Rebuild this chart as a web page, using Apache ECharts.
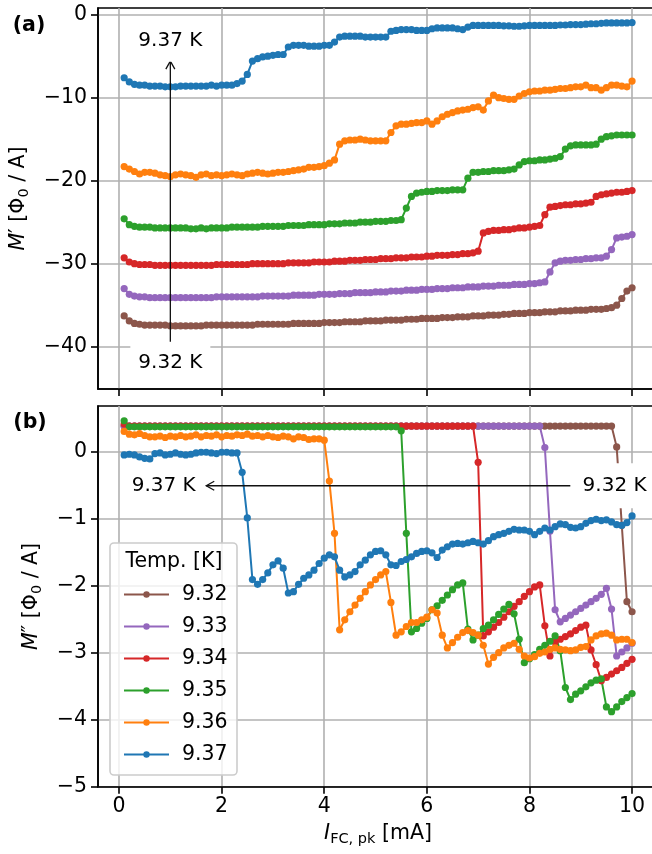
<!DOCTYPE html>
<html>
<head>
<meta charset="utf-8">
<script src="https://cdn.jsdelivr.net/npm/echarts@6.0.0/dist/echarts.min.js"></script>
<style>
  html, body { margin: 0; padding: 0; background: #fff; }
  #chart { width: 652px; height: 854px; }
</style>
</head>
<body>
<div id="chart"></div>
<script>
// peak field-coil current [mA]
const current = [
  0.1, 0.2, 0.3, 0.4, 0.5, 0.6, 0.7, 0.8, 0.9, 1.0,
  1.1, 1.2, 1.3, 1.4, 1.5, 1.6, 1.7, 1.8, 1.9, 2.0,
  2.1, 2.2, 2.3, 2.4, 2.5, 2.6, 2.7, 2.8, 2.9, 3.0,
  3.1, 3.2, 3.3, 3.4, 3.5, 3.6, 3.7, 3.8, 3.9, 4.0,
  4.1, 4.2, 4.3, 4.4, 4.5, 4.6, 4.7, 4.8, 4.9, 5.0,
  5.1, 5.2, 5.3, 5.4, 5.5, 5.6, 5.7, 5.8, 5.9, 6.0,
  6.1, 6.2, 6.3, 6.4, 6.5, 6.6, 6.7, 6.8, 6.9, 7.0,
  7.1, 7.2, 7.3, 7.4, 7.5, 7.6, 7.7, 7.8, 7.9, 8.0,
  8.1, 8.2, 8.3, 8.4, 8.5, 8.6, 8.7, 8.8, 8.9, 9.0,
  9.1, 9.2, 9.3, 9.4, 9.5, 9.6, 9.7, 9.8, 9.9, 10.0
];

// M' (panel a)
const mReal932 = [
  -36.3, -36.9, -37.2, -37.3, -37.4, -37.4, -37.4, -37.4, -37.4, -37.5,
  -37.5, -37.5, -37.5, -37.5, -37.5, -37.5, -37.4, -37.4, -37.4, -37.4,
  -37.4, -37.4, -37.4, -37.4, -37.4, -37.4, -37.3, -37.3, -37.3, -37.3,
  -37.3, -37.3, -37.3, -37.2, -37.2, -37.2, -37.2, -37.2, -37.2, -37.1,
  -37.1, -37.1, -37.1, -37.0, -37.0, -37.0, -37.0, -36.9, -36.9, -36.9,
  -36.9, -36.8, -36.8, -36.8, -36.8, -36.7, -36.7, -36.7, -36.6, -36.6,
  -36.6, -36.6, -36.5, -36.5, -36.5, -36.4, -36.4, -36.4, -36.3, -36.3,
  -36.3, -36.2, -36.2, -36.2, -36.1, -36.1, -36.0, -36.0, -36.0, -35.9,
  -35.9, -35.9, -35.8, -35.8, -35.8, -35.7, -35.7, -35.7, -35.6, -35.6,
  -35.6, -35.5, -35.5, -35.5, -35.4, -35.3, -35.0, -34.2, -33.3, -32.9
];
const mReal933 = [
  -33.0, -33.7, -33.9, -34.0, -34.0, -34.1, -34.1, -34.1, -34.1, -34.1,
  -34.1, -34.1, -34.1, -34.1, -34.1, -34.1, -34.1, -34.1, -34.0, -34.0,
  -34.0, -34.0, -34.0, -34.0, -34.0, -34.0, -34.0, -33.9, -33.9, -33.9,
  -33.9, -33.9, -33.9, -33.8, -33.8, -33.8, -33.8, -33.8, -33.7, -33.7,
  -33.7, -33.7, -33.6, -33.6, -33.6, -33.5, -33.5, -33.5, -33.5, -33.4,
  -33.4, -33.4, -33.3, -33.3, -33.3, -33.2, -33.2, -33.2, -33.1, -33.1,
  -33.1, -33.0, -33.0, -33.0, -32.9, -32.9, -32.9, -32.8, -32.8, -32.8,
  -32.7, -32.7, -32.7, -32.6, -32.6, -32.6, -32.5, -32.5, -32.5, -32.4,
  -32.4, -32.3, -32.2, -31.0, -29.9, -29.7, -29.6, -29.6, -29.5, -29.5,
  -29.4, -29.4, -29.3, -29.3, -29.1, -28.3, -26.9, -26.8, -26.7, -26.5
];
const mReal934 = [
  -29.3, -29.8, -30.0, -30.1, -30.1, -30.1, -30.2, -30.2, -30.2, -30.2,
  -30.2, -30.2, -30.2, -30.2, -30.2, -30.2, -30.2, -30.2, -30.1, -30.1,
  -30.1, -30.1, -30.1, -30.1, -30.1, -30.0, -30.0, -30.0, -30.0, -30.0,
  -30.0, -30.0, -29.9, -29.9, -29.9, -29.9, -29.9, -29.8, -29.8, -29.8,
  -29.8, -29.7, -29.7, -29.7, -29.6, -29.6, -29.6, -29.5, -29.5, -29.5,
  -29.4, -29.4, -29.4, -29.3, -29.3, -29.3, -29.2, -29.2, -29.2, -29.1,
  -29.1, -29.0, -29.0, -29.0, -28.9, -28.9, -28.8, -28.8, -28.7, -28.5,
  -26.3, -26.1, -26.0, -26.0, -25.9, -25.9, -25.8, -25.7, -25.7, -25.6,
  -25.5, -25.4, -24.1, -23.2, -23.1, -23.0, -22.9, -22.9, -22.8, -22.8,
  -22.7, -22.6, -21.9, -21.7, -21.6, -21.5, -21.4, -21.4, -21.3, -21.2
];
const mReal935 = [
  -24.6, -25.3, -25.5, -25.6, -25.6, -25.6, -25.7, -25.7, -25.7, -25.7,
  -25.7, -25.7, -25.7, -25.8, -25.8, -25.7, -25.8, -25.7, -25.7, -25.7,
  -25.7, -25.6, -25.6, -25.6, -25.6, -25.6, -25.6, -25.5, -25.5, -25.5,
  -25.5, -25.5, -25.4, -25.4, -25.4, -25.4, -25.3, -25.3, -25.3, -25.3,
  -25.2, -25.2, -25.2, -25.1, -25.1, -25.1, -25.0, -25.0, -25.0, -24.9,
  -24.9, -24.9, -24.8, -24.8, -24.7, -23.3, -21.9, -21.5, -21.4, -21.3,
  -21.3, -21.2, -21.2, -21.2, -21.1, -21.1, -21.1, -19.7, -19.0, -19.0,
  -18.9, -18.9, -18.8, -18.8, -18.8, -18.7, -18.6, -18.1, -17.7, -17.6,
  -17.6, -17.5, -17.5, -17.4, -17.3, -17.1, -16.2, -15.8, -15.7, -15.7,
  -15.7, -15.7, -15.6, -15.0, -14.7, -14.6, -14.5, -14.5, -14.5, -14.5
];
const mReal936 = [
  -18.3, -18.6, -18.9, -19.2, -19.0, -19.0, -19.1, -19.3, -19.4, -19.5,
  -19.3, -19.2, -19.3, -19.4, -19.6, -19.3, -19.2, -19.4, -19.3, -19.4,
  -19.3, -19.2, -19.3, -19.4, -19.2, -19.1, -19.0, -19.1, -19.2, -19.1,
  -19.0, -19.0, -18.9, -18.8, -18.7, -18.6, -18.4, -18.4, -18.3, -18.2,
  -17.9, -17.5, -15.6, -15.2, -15.1, -15.1, -15.0, -15.1, -15.2, -15.2,
  -15.2, -15.2, -14.2, -13.4, -13.2, -13.2, -13.1, -13.0, -13.0, -12.8,
  -13.2, -12.8, -12.3, -12.0, -11.8, -11.6, -11.5, -11.4, -11.2, -11.1,
  -11.5, -10.4, -9.7, -10.0, -10.1, -10.2, -10.2, -9.8, -9.5, -9.3,
  -9.2, -9.2, -9.1, -9.1, -9.0, -8.9, -8.9, -8.8, -8.7, -8.7,
  -8.5, -8.8, -8.8, -9.1, -8.8, -8.5, -8.5, -8.6, -8.7, -8.0
];
const mReal937 = [
  -7.6, -8.1, -8.4, -8.5, -8.5, -8.6, -8.6, -8.6, -8.7, -8.7,
  -8.7, -8.6, -8.6, -8.6, -8.6, -8.6, -8.6, -8.5, -8.6, -8.5,
  -8.5, -8.5, -8.3, -8.0, -7.2, -5.6, -5.3, -5.1, -5.0, -4.9,
  -4.8, -4.8, -3.9, -3.7, -3.7, -3.7, -3.8, -3.8, -3.8, -3.7,
  -3.7, -3.3, -2.7, -2.6, -2.6, -2.6, -2.6, -2.7, -2.7, -2.7,
  -2.7, -2.7, -2.0, -1.9, -1.8, -1.8, -1.8, -1.9, -1.9, -1.9,
  -1.7, -1.6, -1.6, -1.6, -1.6, -1.7, -1.8, -1.5, -1.3, -1.3,
  -1.3, -1.3, -1.3, -1.3, -1.35, -1.35, -1.4, -1.4, -1.35, -1.3,
  -1.3, -1.3, -1.3, -1.3, -1.3, -1.25, -1.25, -1.2, -1.2, -1.2,
  -1.15, -1.1, -1.1, -1.05, -1.0, -1.0, -1.0, -1.0, -1.0, -0.95
];

// M'' (panel b)
const mImag932 = [
  0.38, 0.38, 0.38, 0.38, 0.38, 0.38, 0.38, 0.38, 0.38, 0.38,
  0.38, 0.38, 0.38, 0.38, 0.38, 0.38, 0.38, 0.38, 0.38, 0.38,
  0.38, 0.38, 0.38, 0.38, 0.38, 0.38, 0.38, 0.38, 0.38, 0.38,
  0.38, 0.38, 0.38, 0.38, 0.38, 0.38, 0.38, 0.38, 0.38, 0.38,
  0.38, 0.38, 0.38, 0.38, 0.38, 0.38, 0.38, 0.38, 0.38, 0.38,
  0.38, 0.38, 0.38, 0.38, 0.38, 0.38, 0.38, 0.38, 0.38, 0.38,
  0.38, 0.38, 0.38, 0.38, 0.38, 0.38, 0.38, 0.38, 0.38, 0.38,
  0.38, 0.38, 0.38, 0.38, 0.38, 0.38, 0.38, 0.38, 0.38, 0.38,
  0.38, 0.38, 0.38, 0.38, 0.38, 0.38, 0.38, 0.38, 0.38, 0.38,
  0.38, 0.38, 0.38, 0.38, 0.38, 0.38, 0.07, -1.10, -2.24, -2.39
];
const mImag933 = [
  0.38, 0.38, 0.38, 0.38, 0.38, 0.38, 0.38, 0.38, 0.38, 0.38,
  0.38, 0.38, 0.38, 0.38, 0.38, 0.38, 0.38, 0.38, 0.38, 0.38,
  0.38, 0.38, 0.38, 0.38, 0.38, 0.38, 0.38, 0.38, 0.38, 0.38,
  0.38, 0.38, 0.38, 0.38, 0.38, 0.38, 0.38, 0.38, 0.38, 0.38,
  0.38, 0.38, 0.38, 0.38, 0.38, 0.38, 0.38, 0.38, 0.38, 0.38,
  0.38, 0.38, 0.38, 0.38, 0.38, 0.38, 0.38, 0.38, 0.38, 0.38,
  0.38, 0.38, 0.38, 0.38, 0.38, 0.38, 0.38, 0.38, 0.38, 0.38,
  0.38, 0.38, 0.38, 0.38, 0.38, 0.38, 0.38, 0.38, 0.38, 0.38,
  0.38, 0.38, 0.06, -1.19, -2.36, -2.54, -2.49, -2.44, -2.39, -2.34,
  -2.29, -2.24, -2.19, -2.13, -2.04, -2.35, -3.05, -2.99, -2.93, -2.86
];
const mImag934 = [
  0.41, 0.38, 0.38, 0.38, 0.38, 0.38, 0.38, 0.38, 0.38, 0.38,
  0.38, 0.38, 0.38, 0.38, 0.38, 0.38, 0.38, 0.38, 0.38, 0.38,
  0.38, 0.38, 0.38, 0.38, 0.38, 0.38, 0.38, 0.38, 0.38, 0.38,
  0.38, 0.38, 0.38, 0.38, 0.38, 0.38, 0.38, 0.38, 0.38, 0.38,
  0.38, 0.38, 0.38, 0.38, 0.38, 0.38, 0.38, 0.38, 0.38, 0.38,
  0.38, 0.38, 0.38, 0.38, 0.38, 0.38, 0.38, 0.38, 0.38, 0.38,
  0.38, 0.38, 0.38, 0.38, 0.38, 0.38, 0.38, 0.38, 0.38, -0.16,
  -2.75, -2.69, -2.62, -2.55, -2.47, -2.39, -2.31, -2.24, -2.16, -2.09,
  -2.02, -1.99, -2.60, -3.05, -2.84, -2.80, -2.76, -2.72, -2.67, -2.62,
  -2.59, -2.96, -3.18, -3.42, -3.37, -3.32, -3.27, -3.22, -3.16, -3.10
];
const mImag935 = [
  0.46, 0.37, 0.37, 0.37, 0.37, 0.37, 0.37, 0.37, 0.37, 0.37,
  0.37, 0.37, 0.37, 0.37, 0.37, 0.37, 0.37, 0.37, 0.37, 0.37,
  0.37, 0.37, 0.37, 0.37, 0.37, 0.37, 0.37, 0.37, 0.37, 0.37,
  0.37, 0.37, 0.37, 0.37, 0.37, 0.37, 0.37, 0.37, 0.37, 0.37,
  0.37, 0.37, 0.37, 0.37, 0.37, 0.37, 0.37, 0.37, 0.37, 0.37,
  0.37, 0.37, 0.37, 0.37, 0.31, -1.22, -2.69, -2.64, -2.56, -2.49,
  -2.36, -2.30, -2.22, -2.14, -2.06, -1.99, -1.96, -2.65, -2.81, -2.74,
  -2.64, -2.59, -2.51, -2.43, -2.35, -2.28, -2.42, -2.80, -3.15, -3.09,
  -3.03, -2.95, -2.89, -2.83, -2.75, -2.97, -3.52, -3.70, -3.62, -3.57,
  -3.51, -3.45, -3.41, -3.39, -3.81, -3.88, -3.81, -3.73, -3.67, -3.61
];
const mImag936 = [
  0.30, 0.26, 0.25, 0.27, 0.24, 0.22, 0.22, 0.23, 0.21, 0.23,
  0.22, 0.24, 0.22, 0.23, 0.25, 0.22, 0.24, 0.23, 0.25, 0.22,
  0.24, 0.23, 0.25, 0.24, 0.26, 0.23, 0.24, 0.22, 0.24, 0.22,
  0.21, 0.23, 0.22, 0.19, 0.22, 0.21, 0.18, 0.19, 0.19, 0.17,
  -0.44, -1.22, -2.66, -2.51, -2.39, -2.29, -2.19, -2.09, -1.99, -1.91,
  -1.84, -1.79, -2.25, -2.74, -2.69, -2.61, -2.55, -2.55, -2.51, -2.47,
  -2.36, -2.41, -2.74, -2.93, -2.85, -2.77, -2.70, -2.67, -2.70, -2.74,
  -2.89, -3.17, -3.07, -3.00, -2.93, -2.89, -2.86, -2.95, -3.05, -3.08,
  -3.06, -3.01, -2.99, -2.95, -2.93, -2.95, -2.96, -2.97, -2.96, -2.92,
  -2.91, -2.81, -2.75, -2.72, -2.71, -2.74, -2.81, -2.80, -2.80, -2.85
];
const mImag937 = [
  -0.05, -0.04, -0.05, -0.08, -0.10, -0.11, -0.03, -0.02, -0.05, -0.04,
  -0.02, -0.04, -0.05, -0.04, -0.02, -0.01, -0.01, -0.02, -0.03, -0.01,
  -0.01, -0.02, -0.02, -0.31, -0.99, -1.91, -1.98, -1.91, -1.81, -1.69,
  -1.63, -1.74, -2.11, -2.09, -1.98, -1.89, -1.84, -1.77, -1.67, -1.59,
  -1.54, -1.57, -1.77, -1.87, -1.84, -1.79, -1.69, -1.62, -1.54, -1.49,
  -1.48, -1.54, -1.69, -1.70, -1.64, -1.61, -1.57, -1.52, -1.49, -1.48,
  -1.51, -1.58, -1.47, -1.42, -1.38, -1.37, -1.38, -1.36, -1.34, -1.36,
  -1.38, -1.33, -1.27, -1.24, -1.22, -1.19, -1.16, -1.17, -1.17, -1.19,
  -1.24, -1.19, -1.14, -1.17, -1.12, -1.08, -1.09, -1.13, -1.14, -1.12,
  -1.07, -1.03, -1.01, -1.03, -1.02, -1.05, -1.09, -1.10, -1.06, -0.96
];

const temps = ['9.32', '9.33', '9.34', '9.35', '9.36', '9.37'];
const realParts = [mReal932, mReal933, mReal934, mReal935, mReal936, mReal937];
const imagParts = [mImag932, mImag933, mImag934, mImag935, mImag936, mImag937];

const xTicks = [0, 2, 4, 6, 8, 10];
const yTicksTop = [-40, -30, -20, -10, 0];
const yTicksBottom = [-5, -4, -3, -2, -1, 0];

// annotation anchors in data coordinates
const arrowTop = { grid: 0, from: [1.0, -39.4], to: [1.0, -5.6] };
const arrowBottom = { grid: 1, from: [8.8, -0.51], to: [1.7, -0.51] };
const annoTexts = [
  { grid: 0, at: [1.0, -41.9], text: '9.32 K', pad: [10, 8] },
  { grid: 0, at: [1.0, -3.2], text: '9.37 K', pad: [10, 8] },
  { grid: 1, at: [9.66, -0.51], text: '9.32 K', pad: [12, 12] },
  { grid: 1, at: [0.87, -0.51], text: '9.37 K', pad: [8, 8] }
];

const colors = ['#8c564b', '#9467bd', '#d62728', '#2ca02c', '#ff7f0e', '#1f77b4'];
const FONT = 'DejaVu Sans';
const minus = v => String(v).replace('-', '\u2212');

const chart = echarts.init(document.getElementById('chart'), null, { renderer: 'canvas' });

const series = [];
temps.forEach((t, k) => {
  [realParts[k], imagParts[k]].forEach((vals, g) => {
    series.push({
      name: t,
      type: 'line',
      xAxisIndex: g,
      yAxisIndex: g,
      data: current.map((x, i) => [x, vals[i]]),
      symbol: 'circle',
      symbolSize: 7.2,
      itemStyle: { color: colors[k], borderWidth: 0 },
      lineStyle: { color: colors[k], width: 2 },
      emphasis: { disabled: true }
    });
  });
});

function xAxisFor(g, labels) {
  return {
    type: 'value', gridIndex: g, min: -0.41, max: 10.49,
    axisLine: { show: true, onZero: false, lineStyle: { color: '#000', width: 1.6 } },
    axisTick: { show: true, length: 7, customValues: xTicks, lineStyle: { color: '#000', width: 1.6 } },
    axisLabel: { show: labels, customValues: xTicks, margin: 9, fontSize: 20.5, fontFamily: FONT, color: '#000', formatter: minus },
    splitLine: { show: true, lineStyle: { color: '#b0b0b0', width: 1.6 } }
  };
}
function yAxisFor(g, min, max, ticks) {
  return {
    type: 'value', gridIndex: g, min: min, max: max,
    axisLine: { show: true, onZero: false, lineStyle: { color: '#000', width: 1.6 } },
    axisTick: { show: true, length: 7, customValues: ticks, lineStyle: { color: '#000', width: 1.6 } },
    axisLabel: { show: true, customValues: ticks, margin: 11, fontSize: 20.5, fontFamily: FONT, color: '#000', formatter: minus },
    splitLine: { show: true, lineStyle: { color: '#b0b0b0', width: 1.6 } }
  };
}

const gridBase = { left: 98, width: 559.2, show: true, borderColor: '#000', borderWidth: 1.6, containLabel: false, outerBoundsMode: 'none' };

chart.setOption({
  animation: false,
  backgroundColor: '#fff',
  grid: [
    Object.assign({ top: 8, height: 381 }, gridBase),
    Object.assign({ top: 406, height: 380.7 }, gridBase)
  ],
  xAxis: [xAxisFor(0, false), xAxisFor(1, true)],
  yAxis: [yAxisFor(0, -45.1, 0.8, yTicksTop), yAxisFor(1, -5, 0.68, yTicksBottom)],
  legend: {
    data: temps,
    orient: 'vertical',
    left: 118,
    top: 579,
    itemWidth: 45,
    itemHeight: 8,
    itemGap: 11,
    selectedMode: false,
    z: 10,
    textStyle: { fontSize: 20.5, fontFamily: FONT, color: '#000', lineHeight: 21, padding: [0, 0, 0, 8] }
  },
  series: series
});

// graphic overlay: titles, legend frame and annotations
const px = (g, p) => chart.convertToPixel({ gridIndex: g }, p);
const els = [];

const axisRich = {
  i: { fontFamily: FONT, fontStyle: 'italic', fontSize: 20.5, lineHeight: 26, fill: '#000' },
  n: { fontFamily: FONT, fontSize: 20.5, lineHeight: 26, fill: '#000' },
  s: { fontFamily: FONT, fontSize: 14.5, lineHeight: 15, verticalAlign: 'bottom', fill: '#000' }
};
els.push({ type: 'text', x: 19, y: 198.5, rotation: Math.PI / 2, z: 5,
  style: { text: '{i|M}{n|\u2032 [\u03a6}{s|0}{n| / A]}', rich: axisRich, align: 'center', verticalAlign: 'middle' } });
els.push({ type: 'text', x: 32, y: 596.5, rotation: Math.PI / 2, z: 5,
  style: { text: '{i|M}{n|\u2033 [\u03a6}{s|0}{n| / A]}', rich: axisRich, align: 'center', verticalAlign: 'middle' } });
els.push({ type: 'text', x: 378, y: 834, z: 5,
  style: { text: '{i|I}{s|FC, pk}{n| [mA]}', rich: axisRich, align: 'center', verticalAlign: 'middle' } });

els.push({ type: 'text', x: 29, y: 26, z: 5,
  style: { text: '(a)', fontFamily: FONT, fontWeight: 'bold', fontSize: 20.5, fill: '#000', align: 'center', verticalAlign: 'middle' } });
els.push({ type: 'text', x: 30, y: 423, z: 5,
  style: { text: '(b)', fontFamily: FONT, fontWeight: 'bold', fontSize: 20.5, fill: '#000', align: 'center', verticalAlign: 'middle' } });

// legend frame and title
els.push({ type: 'rect', z: 8, shape: { x: 110, y: 543, width: 127, height: 232, r: 4 },
  style: { fill: 'rgba(255,255,255,0.8)', stroke: '#cccccc', lineWidth: 1.6 } });
els.push({ type: 'text', x: 174, y: 562, z: 11,
  style: { text: 'Temp. [K]', fontFamily: FONT, fontSize: 20.5, fill: '#000', align: 'center', verticalAlign: 'middle' } });

// arrows
[arrowTop, arrowBottom].forEach(a => {
  const p0 = px(a.grid, a.from), p1 = px(a.grid, a.to);
  const dx = p1[0] - p0[0], dy = p1[1] - p0[1];
  const len = Math.sqrt(dx * dx + dy * dy);
  const ux = dx / len, uy = dy / len;
  const hl = 8, hw = 4.5;
  els.push({ type: 'line', z: 12, shape: { x1: p0[0], y1: p0[1], x2: p1[0], y2: p1[1] },
    style: { stroke: '#111', lineWidth: 1.3 } });
  els.push({ type: 'polyline', z: 12, shape: { points: [
      [p1[0] - ux * hl - uy * hw, p1[1] - uy * hl + ux * hw],
      [p1[0], p1[1]],
      [p1[0] - ux * hl + uy * hw, p1[1] - uy * hl - ux * hw]
    ] }, style: { stroke: '#111', lineWidth: 1.3, fill: null } });
});

annoTexts.forEach(t => {
  const p = px(t.grid, t.at);
  els.push({ type: 'text', x: p[0], y: p[1], z: 13,
    style: { text: t.text, fontFamily: FONT, fontSize: 20, fill: '#000', align: 'center', verticalAlign: 'middle',
      lineHeight: 21, backgroundColor: '#fff', padding: t.pad } });
});

chart.setOption({ graphic: { elements: els } });
</script>
</body>
</html>
